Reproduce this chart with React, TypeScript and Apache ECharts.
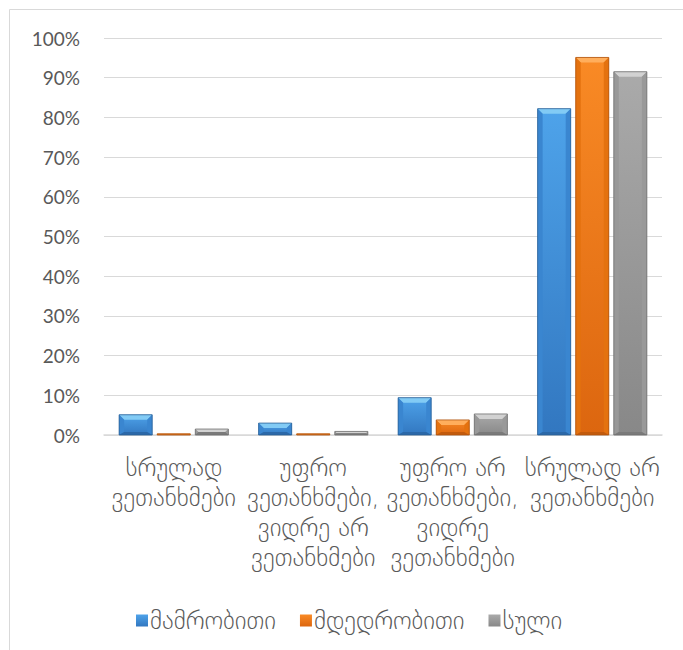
import React, { useEffect, useRef } from "react";
import * as echarts from "echarts";

const categories = [
  "სრულად\nვეთანხმები",
  "უფრო\nვეთანხმები,\nვიდრე არ\nვეთანხმები",
  "უფრო არ\nვეთანხმები,\nვიდრე\nვეთანხმები",
  "სრულად არ\nვეთანხმები",
];
const seriesNames = ["მამრობითი", "მდედრობითი", "სული"];
const maleValues = [5.1, 3.0, 9.4, 82.2];
const femaleValues = [0.3, 0.3, 3.8, 95.1];
const totalValues = [1.5, 0.9, 5.3, 91.5];
const yTicks = [0, 10, 20, 30, 40, 50, 60, 70, 80, 90, 100];

const palettes = [
  { faceTop: "#4ea3ea", faceBot: "#3277c0", top: "#82cbf5", side: "#3a86d0", bottom: "#2b68a8", line: "#2a5f95" },
  { faceTop: "#f98a25", faceBot: "#dc660f", top: "#ffae5c", side: "#e4720f", bottom: "#c25a0c", line: "#b0530c" },
  { faceTop: "#aaaaaa", faceBot: "#888888", top: "#d2d2d2", side: "#999999", bottom: "#7a7a7a", line: "#707070" },
];

export default function App() {
  const ref = useRef<HTMLDivElement>(null);
  useEffect(() => {
    if (!ref.current) return;
    const chart = echarts.init(ref.current, undefined, { renderer: "svg" });
    const allValues = [maleValues, femaleValues, totalValues];
    const series = allValues.map((vals, si) => {
      const p = palettes[si];
      return {
        type: "custom",
        name: seriesNames[si],
        itemStyle: {
          color: new echarts.graphic.LinearGradient(0, 0, 0, 1, [
            { offset: 0, color: p.faceTop },
            { offset: 1, color: p.faceBot },
          ]),
        },
        encode: { x: 0, y: 1 },
        data: vals.map((v, i) => [i, v]),
        renderItem: (params: any, api: any) => {
          const ci = api.value(0);
          const v = api.value(1);
          const topPt = api.coord([ci, v]);
          const basePt = api.coord([ci, 0]);
          const band = api.size([1, 0])[0];
          const bw = band * 0.237;
          const gap = band * 0.036;
          const cx = topPt[0] + (si - 1) * (bw + gap);
          const x0 = cx - bw / 2;
          const x1 = cx + bw / 2;
          const y1 = basePt[1];
          const h = Math.max(y1 - topPt[1], 1);
          const yy0 = y1 - h;
          const b = Math.min(5, h / 2, bw / 2);
          const bb = Math.min(3, h / 2);
          const poly = (pts: number[][], fill: string) => ({
            type: "polygon",
            shape: { points: pts },
            style: { fill },
            silent: true,
          });
          return {
            type: "group",
            children: [
              {
                type: "rect",
                shape: { x: x0, y: yy0, width: bw, height: h },
                style: {
                  fill: new echarts.graphic.LinearGradient(0, 0, 0, 1, [
                    { offset: 0, color: p.faceTop },
                    { offset: 1, color: p.faceBot },
                  ]),
                },
              },
              poly([[x0, yy0], [x1, yy0], [x1 - b, yy0 + b], [x0 + b, yy0 + b]], p.top),
              poly([[x0, yy0], [x0 + b, yy0 + b], [x0 + b, y1 - bb], [x0, y1]], p.side),
              poly([[x1, yy0], [x1, y1], [x1 - b, y1 - bb], [x1 - b, yy0 + b]], p.side),
              poly([[x0, y1], [x0 + b, y1 - bb], [x1 - b, y1 - bb], [x1, y1]], p.bottom),
              {
                type: "rect",
                shape: { x: x0, y: yy0, width: bw, height: h },
                style: { fill: "none", stroke: p.line, lineWidth: 0.8 },
                silent: true,
              },
            ],
          };
        },
      };
    });

    chart.setOption({
      animation: false,
      backgroundColor: "#ffffff",
      graphic: [
        {
          type: "rect",
          shape: { x: 9.5, y: 9.5, width: 720, height: 720 },
          style: { fill: "none", stroke: "#d9d9d9", lineWidth: 1 },
          silent: true,
        },
      ],
      grid: { left: 104, right: 21, top: 38, bottom: 215, containLabel: false },
      legend: {
        data: seriesNames,
        top: 603,
        left: 131,
        icon: "rect",
        itemWidth: 12,
        itemHeight: 12,
        itemGap: 24,
        textStyle: { fontFamily: "DejaVu Sans", fontWeight: 200, fontSize: 25, color: "#595959", padding: [0, 0, 0, -3] },
      },
      xAxis: {
        type: "category",
        data: categories,
        axisLine: { show: true, lineStyle: { color: "#d9d9d9", width: 1.5 } },
        axisTick: { show: false },
        axisLabel: {
          interval: 0,
          margin: 17,
          fontFamily: "DejaVu Sans",
          fontWeight: 200,
          fontSize: 25,
          lineHeight: 30,
          color: "#595959",
          align: "center",
          verticalAlign: "top",
        },
      },
      yAxis: {
        type: "value",
        min: yTicks[0],
        max: yTicks[yTicks.length - 1],
        interval: 10,
        axisLine: { show: false },
        axisTick: { show: false },
        splitLine: { lineStyle: { color: "#d9d9d9", width: 1 } },
        axisLabel: {
          formatter: "{value}%",
          margin: 24,
          fontFamily: "Lato, 'Open Sans', sans-serif",
          fontSize: 19,
          color: "#595959",
        },
      },
      series,
    });
    return () => chart.dispose();
  }, []);
  return (
    <div
      ref={ref}
      style={{ position: "fixed", left: 0, top: 0, width: 683, height: 650 }}
    />
  );
}
